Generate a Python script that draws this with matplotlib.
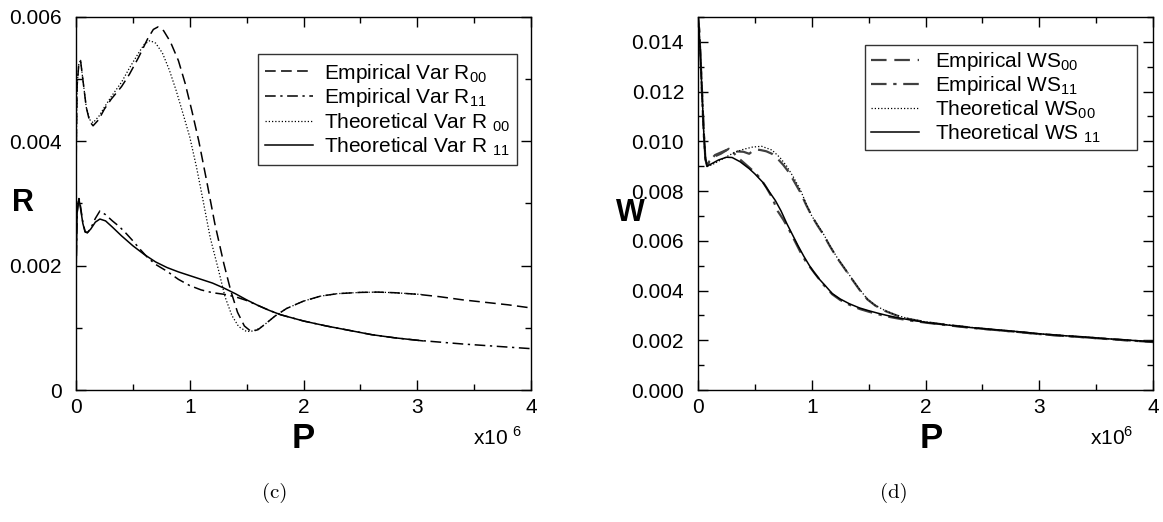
import numpy as np
import matplotlib
matplotlib.use("Agg")
import matplotlib.pyplot as plt
from matplotlib.ticker import MultipleLocator

plt.rcParams['font.family'] = ['Liberation Sans', 'DejaVu Sans']
plt.rcParams['mathtext.fontset'] = 'custom'
plt.rcParams['mathtext.rm'] = 'Liberation Sans'

# ---------------- Panel (c): variance of R (P in units of 1e6) ----------------
p_r00_emp = [0, 0.01, 0.025, 0.04, 0.06, 0.09, 0.12, 0.15, 0.2, 0.25, 0.31, 0.4, 0.47,
             0.55, 0.63, 0.68, 0.72, 0.77, 0.83, 0.9, 0.96, 1.02, 1.08, 1.15, 1.22, 1.30,
             1.36, 1.42, 1.48, 1.54, 1.60, 1.67, 1.75, 1.85, 2.0, 2.15, 2.3, 2.5, 2.65,
             2.8, 3.0, 3.2, 3.4, 3.6, 3.8, 4.0]
r00_emp = [3.5, 4.9, 5.25, 5.3, 5.0, 4.55, 4.32, 4.25, 4.35, 4.52, 4.68, 4.88, 5.08,
           5.35, 5.65, 5.80, 5.84, 5.78, 5.60, 5.30, 4.93, 4.48, 4.0, 3.35, 2.68, 2.03,
           1.60, 1.25, 1.03, 0.94, 0.97, 1.07, 1.19, 1.31, 1.43, 1.51, 1.55, 1.57, 1.575,
           1.565, 1.54, 1.50, 1.45, 1.41, 1.37, 1.32]

p_r00_th = [0, 0.01, 0.025, 0.04, 0.06, 0.09, 0.12, 0.15, 0.2, 0.25, 0.31, 0.4, 0.47,
            0.55, 0.6, 0.65, 0.7, 0.76, 0.82, 0.88, 0.94, 1.0, 1.06, 1.12, 1.18, 1.25,
            1.31, 1.37, 1.43, 1.50, 1.56, 1.62, 1.67, 1.75, 1.85, 2.0, 2.15, 2.3, 2.5,
            2.65, 2.8, 3.05]
r00_th = [3.5, 4.9, 5.25, 5.3, 5.0, 4.55, 4.35, 4.3, 4.4, 4.55, 4.72, 4.95, 5.18,
          5.42, 5.56, 5.62, 5.58, 5.42, 5.15, 4.82, 4.45, 4.07, 3.58, 3.02, 2.45, 1.95,
          1.50, 1.20, 1.02, 0.94, 0.95, 1.0, 1.07, 1.19, 1.31, 1.43, 1.51, 1.55, 1.57,
          1.575, 1.565, 1.535]

p_r11_emp = [0, 0.01, 0.025, 0.04, 0.06, 0.08, 0.1, 0.13, 0.17, 0.21, 0.26, 0.32, 0.38,
             0.44, 0.5, 0.56, 0.63, 0.7, 0.8, 0.9, 1.0, 1.1, 1.2, 1.3, 1.4, 1.5, 1.6,
             1.7, 1.8, 1.9, 2.0, 2.2, 2.4, 2.6, 2.8, 3.0, 3.2, 3.4, 3.6, 3.8, 4.0]
r11_emp = [1.8, 2.85, 3.1, 2.95, 2.7, 2.55, 2.53, 2.6, 2.76, 2.88, 2.82, 2.72, 2.63,
           2.52, 2.40, 2.27, 2.13, 2.02, 1.91, 1.78, 1.68, 1.61, 1.565, 1.54, 1.50, 1.44,
           1.36, 1.28, 1.21, 1.16, 1.11, 1.03, 0.96, 0.89, 0.84, 0.80, 0.77, 0.74, 0.715,
           0.69, 0.665]

p_r11_th = [0, 0.01, 0.025, 0.04, 0.06, 0.08, 0.1, 0.13, 0.17, 0.21, 0.26, 0.32, 0.4,
            0.5, 0.6, 0.7, 0.8, 0.9, 1.0, 1.1, 1.2, 1.3, 1.4, 1.5, 1.6, 1.7, 1.8, 1.9,
            2.0, 2.2, 2.4, 2.6, 2.8, 3.05]
r11_th = [1.8, 2.85, 3.08, 2.92, 2.68, 2.54, 2.53, 2.59, 2.7, 2.75, 2.72, 2.62, 2.48,
          2.32, 2.18, 2.06, 1.97, 1.90, 1.84, 1.78, 1.72, 1.64, 1.55, 1.45, 1.36, 1.28,
          1.21, 1.16, 1.11, 1.03, 0.96, 0.89, 0.84, 0.79]

# ---------------- Panel (d): WS (P in units of 1e6) ----------------
p_ws00_th = [0, 0.01, 0.02, 0.035, 0.05, 0.065, 0.08, 0.12, 0.18, 0.25, 0.32, 0.4, 0.48,
             0.56, 0.65, 0.72, 0.78, 0.84, 0.9, 0.95, 1.0, 1.05, 1.1, 1.16, 1.22, 1.28,
             1.35, 1.42, 1.49, 1.56, 1.65, 1.75, 1.85, 2.0, 2.2, 2.4, 2.6, 2.8, 3.0, 3.2,
             3.4, 3.6, 3.8, 4.0]
ws00_th = [15.0, 14.5, 13.6, 12.0, 10.4, 9.3, 9.0, 9.05, 9.2, 9.38, 9.55, 9.68, 9.77,
           9.8, 9.65, 9.35, 9.0, 8.55, 8.05, 7.5, 7.0, 6.65, 6.3, 5.8, 5.35, 4.96,
           4.5, 4.05, 3.65, 3.4, 3.18, 3.0, 2.87, 2.74, 2.62, 2.52, 2.43, 2.35, 2.26, 2.19,
           2.13, 2.06, 2.0, 1.94]

p_ws00_emp = [0, 0.01, 0.02, 0.035, 0.05, 0.065, 0.08, 0.1, 0.15, 0.2, 0.27, 0.32, 0.4,
              0.45, 0.5, 0.55, 0.6, 0.65, 0.7, 0.75, 0.8, 0.85, 0.9, 0.95, 1.0, 1.05,
              1.1, 1.16, 1.22, 1.28, 1.35, 1.42, 1.49, 1.56, 1.65, 1.75, 1.85, 2.0, 2.2,
              2.4, 2.6, 2.8, 3.0, 3.2, 3.4, 3.6, 3.8, 4.0]
ws00_emp = [15.0, 14.5, 13.6, 12.0, 10.4, 9.3, 9.0, 9.2, 9.4, 9.5, 9.7, 9.6, 9.58,
            9.5, 9.68, 9.65, 9.6, 9.5, 9.3, 9.05, 8.75, 8.35, 7.95, 7.45, 7.0, 6.62,
            6.27, 5.78, 5.33, 4.94, 4.48, 4.03, 3.64, 3.39, 3.17, 2.99, 2.86, 2.73, 2.61,
            2.51, 2.42, 2.34, 2.25, 2.18, 2.12, 2.05, 1.99, 1.93]

p_ws11_th = [0, 0.01, 0.02, 0.035, 0.05, 0.065, 0.08, 0.12, 0.18, 0.25, 0.3, 0.37, 0.45,
             0.5, 0.57, 0.63, 0.68, 0.73, 0.78, 0.83, 0.88, 0.93, 0.98, 1.02, 1.07, 1.12,
             1.18, 1.25, 1.33, 1.42, 1.5, 1.58, 1.66, 1.74, 1.85, 2.0, 2.2, 2.4, 2.6, 2.8,
             3.0, 3.2, 3.4, 3.6, 3.8, 4.0]
ws11_th = [15.0, 14.5, 13.6, 12.0, 10.4, 9.3, 9.0, 9.1, 9.25, 9.36, 9.35, 9.18, 8.9,
           8.69, 8.35, 7.95, 7.62, 7.2, 6.7, 6.25, 5.8, 5.38, 5.0, 4.73, 4.44, 4.19,
           3.88, 3.66, 3.47, 3.3, 3.19, 3.09, 3.0, 2.92, 2.83, 2.72, 2.61, 2.51, 2.43, 2.35,
           2.26, 2.19, 2.13, 2.06, 2.0, 1.94]

p_ws11_emp = [0, 0.01, 0.02, 0.035, 0.05, 0.065, 0.08, 0.1, 0.15, 0.2, 0.25, 0.3, 0.35,
              0.4, 0.45, 0.5, 0.55, 0.6, 0.65, 0.7, 0.75, 0.8, 0.85, 0.9, 0.95, 1.0,
              1.05, 1.1, 1.18, 1.25, 1.33, 1.42, 1.5, 1.58, 1.66, 1.74, 1.85, 2.0, 2.2,
              2.4, 2.6, 2.8, 3.0, 3.2, 3.4, 3.6, 3.8, 4.0]
ws11_emp = [15.0, 14.5, 13.6, 12.0, 10.4, 9.3, 9.0, 9.2, 9.45, 9.55, 9.65, 9.6, 9.35,
            9.15, 8.95, 8.75, 8.5, 8.15, 7.75, 7.2, 6.85, 6.45, 6.0, 5.55, 5.15, 4.85,
            4.55, 4.25, 3.85, 3.62, 3.43, 3.26, 3.15, 3.05, 2.96, 2.89, 2.8, 2.71, 2.60,
            2.50, 2.42, 2.34, 2.25, 2.18, 2.12, 2.05, 1.99, 1.93]

labels_c = [r'Empirical Var R$_\mathregular{00}$',
            r'Empirical Var R$_\mathregular{11}$',
            r'Theoretical Var R $_\mathregular{00}$',
            r'Theoretical Var R $_\mathregular{11}$']
labels_d = [r'Empirical WS$_\mathregular{00}$',
            r'Empirical WS$_\mathregular{11}$',
            r'Theoretical WS$_\mathregular{00}$',
            r'Theoretical WS $_\mathregular{11}$']

yticks_c = [0, 0.002, 0.004, 0.006]
yticklabels_c = ['0', '0.002', '0.004', '0.006']
yticks_d = [0, 0.002, 0.004, 0.006, 0.008, 0.010, 0.012, 0.014]
yticklabels_d = ['0.000', '0.002', '0.004', '0.006', '0.008', '0.010', '0.012', '0.014']
xticks = [0, 1, 2, 3, 4]

W, H = 1163, 522
fig = plt.figure(figsize=(W / 100, H / 100), dpi=100)
axc = fig.add_axes([76 / W, 1 - 390 / H, 455 / W, 373 / H])
axd = fig.add_axes([698 / W, 1 - 390 / H, 455 / W, 373 / H])

DASH = (0, (7, 3.5))
DASHDOT = (0, (7, 3, 1.5, 3))
DOT = (0, (1, 1.6))

s = 1e-3
axc.plot(p_r00_emp, np.array(r00_emp) * s, color='black', lw=1.1, ls=DASH, label=labels_c[0])
axc.plot(p_r11_emp, np.array(r11_emp) * s, color='black', lw=1.1, ls=DASHDOT, label=labels_c[1])
axc.plot(p_r00_th, np.array(r00_th) * s, color='black', lw=0.9, ls=DOT, label=labels_c[2])
axc.plot(p_r11_th, np.array(r11_th) * s, color='black', lw=1.1, ls='-', label=labels_c[3])

axd.plot(p_ws00_emp, np.array(ws00_emp) * s, color='#404040', lw=1.6, ls=DASH, label=labels_d[0])
axd.plot(p_ws11_emp, np.array(ws11_emp) * s, color='#404040', lw=1.6, ls=DASHDOT, label=labels_d[1])
axd.plot(p_ws00_th, np.array(ws00_th) * s, color='black', lw=0.9, ls=DOT, label=labels_d[2])
axd.plot(p_ws11_th, np.array(ws11_th) * s, color='black', lw=1.1, ls='-', label=labels_d[3])

for ax in (axc, axd):
    ax.set_xlim(0, 4)
    ax.set_xticks(xticks)
    ax.set_xticklabels([str(t) for t in xticks])
    ax.xaxis.set_minor_locator(MultipleLocator(0.5))
    ax.yaxis.set_minor_locator(MultipleLocator(0.001))
    ax.tick_params(which='both', direction='in', top=True, right=True, width=1, labelsize=15)
    ax.tick_params(which='major', length=7)
    ax.tick_params(which='minor', length=4)
    ax.tick_params(axis='y', pad=10)
    ax.tick_params(axis='x', pad=6)
    for sp in ax.spines.values():
        sp.set_linewidth(1.0)

axc.set_ylim(0, 0.006)
axc.set_yticks(yticks_c)
axc.set_yticklabels(yticklabels_c)
axd.set_ylim(0, 0.015)
axd.set_yticks(yticks_d)
axd.set_yticklabels(yticklabels_d)

legc = axc.legend(loc='upper left', bbox_to_anchor=(0.40, 0.90), fontsize=15,
                  frameon=True, fancybox=False, edgecolor='black', handlelength=2.3,
                  handletextpad=0.5, borderpad=0.35, labelspacing=0.08, borderaxespad=0)
legc.get_frame().set_linewidth(1.0)

handles_d, _ = axd.get_legend_handles_labels()
legd_labels = labels_d[:3] + [labels_d[3] + '      ']
legd = axd.legend(handles_d, legd_labels, loc='upper left', bbox_to_anchor=(0.368, 0.925),
                  fontsize=15, frameon=True, fancybox=False, edgecolor='black',
                  handlelength=2.3, handletextpad=0.8, borderpad=0.25, labelspacing=0.05,
                  borderaxespad=0)
legd.get_frame().set_linewidth(1.0)

# axis labels
fig.text(23 / W, 1 - 203 / H, 'R', fontsize=22, fontweight='bold', ha='center', va='center')
fig.text(630 / W, 1 - 213 / H, 'W', fontsize=22, fontweight='bold', ha='center', va='center')
fig.text(303 / W, 1 - 439 / H, 'P', fontsize=25, fontweight='bold', ha='center', va='center')
fig.text(931 / W, 1 - 439 / H, 'P', fontsize=25, fontweight='bold', ha='center', va='center')
fig.text(498 / W, 1 - 438 / H, r'x10 $^\mathregular{6}$', fontsize=15, ha='center', va='center')
fig.text(1112 / W, 1 - 438 / H, r'x10$^\mathregular{6}$', fontsize=15, ha='center', va='center')

# captions
fig.text(275 / W, 1 - 493 / H, '(c)', fontsize=15, family=['cmr10', 'DejaVu Serif'],
         ha='center', va='center')
fig.text(894 / W, 1 - 493 / H, '(d)', fontsize=15, family=['cmr10', 'DejaVu Serif'],
         ha='center', va='center')

fig.savefig('out.png', dpi=100)
